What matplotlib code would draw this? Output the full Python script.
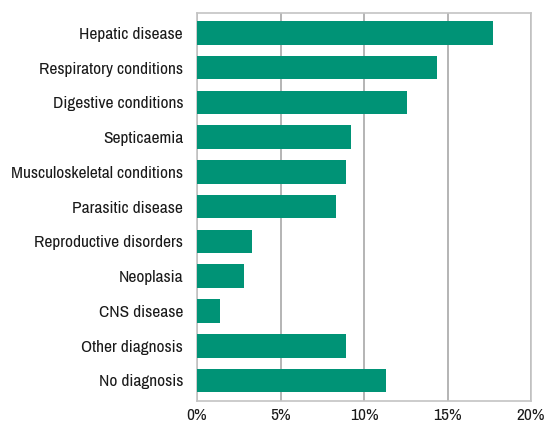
import matplotlib
matplotlib.use("Agg")
import matplotlib.pyplot as plt
from matplotlib import font_manager
from matplotlib.ticker import FuncFormatter

categories = [
    "Hepatic disease",
    "Respiratory conditions",
    "Digestive conditions",
    "Septicaemia",
    "Musculoskeletal conditions",
    "Parasitic disease",
    "Reproductive disorders",
    "Neoplasia",
    "CNS disease",
    "Other diagnosis",
    "No diagnosis",
]
percent = [17.7, 14.4, 12.6, 9.2, 8.9, 8.3, 3.3, 2.8, 1.4, 8.9, 11.3]
xticks = [0, 5, 10, 15, 20]

# prefer a narrow face if one is around
installed = {f.name for f in font_manager.fontManager.ttflist}
narrow = [n for n in sorted(installed) if "Narrow" in n or "Condensed" in n]
family = narrow[0] if narrow else "Liberation Sans"
size = 12.5 if narrow else 10
plt.rcParams["font.family"] = [family, "DejaVu Sans"]

fig = plt.figure(figsize=(5.53, 4.25), dpi=100)
ax = fig.add_axes([197 / 553, 1 - 401.3 / 425, (531 - 197) / 553, (401.3 - 12.7) / 425])

ypos = list(range(len(categories)))
ax.barh(ypos, percent, height=0.68, color="#009376", zorder=3)
ax.set_ylim(len(categories) - 0.4, -0.58)
ax.set_xlim(0, 20)
ax.set_yticks(ypos, categories)
ax.set_xticks(xticks)
ax.xaxis.set_major_formatter(FuncFormatter(lambda v, p: f"{v:.0f}%"))
ax.tick_params(axis="both", length=0, labelsize=size, colors="#1a1a1a")
ax.tick_params(axis="y", pad=10)
ax.tick_params(axis="x", pad=5)
ax.grid(axis="x", color="#a8a8a8", linewidth=1.2, zorder=0)
for s in ax.spines.values():
    s.set_color("#c4c4c4")
    s.set_linewidth(1.2)

fig.savefig("out.png", dpi=100)
